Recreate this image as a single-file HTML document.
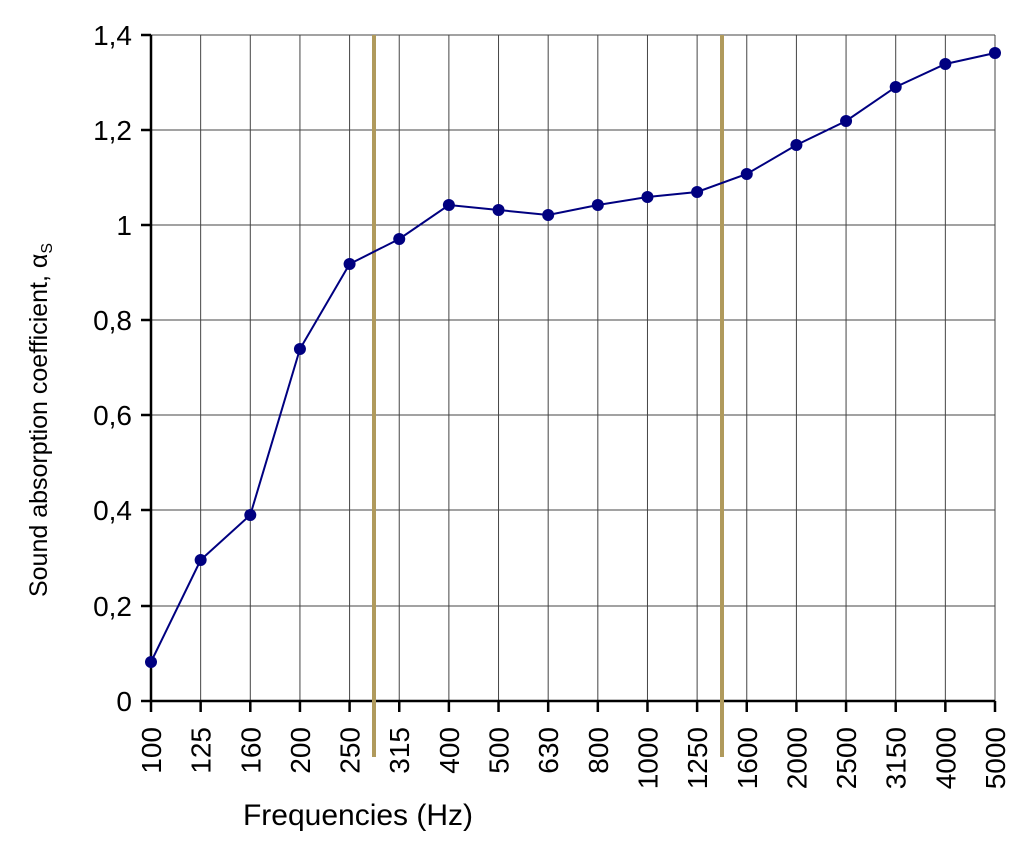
<!DOCTYPE html>
<html><head><style>body{margin:0;background:#fff}svg{display:block}text{font-family:"Liberation Sans",sans-serif;fill:#000}</style></head><body>
<svg width="1028" height="846" xmlns="http://www.w3.org/2000/svg">
<g stroke="#444" stroke-width="1">
<line x1="151" y1="130" x2="995" y2="130"/><line x1="151" y1="225" x2="995" y2="225"/><line x1="151" y1="320" x2="995" y2="320"/><line x1="151" y1="415" x2="995" y2="415"/><line x1="151" y1="510" x2="995" y2="510"/><line x1="151" y1="606" x2="995" y2="606"/><line x1="151" y1="35" x2="995" y2="35"/>
</g>
<g id="vg" stroke="#444" stroke-width="1"></g>
<line x1="151" y1="35" x2="151" y2="701" stroke="#000" stroke-width="2.5"/>
<line x1="141" y1="701" x2="995" y2="701" stroke="#000" stroke-width="2.5"/>
<g stroke="#000" stroke-width="2.5">
<line x1="141" y1="35" x2="151" y2="35"/><line x1="141" y1="130" x2="151" y2="130"/><line x1="141" y1="225" x2="151" y2="225"/><line x1="141" y1="320" x2="151" y2="320"/><line x1="141" y1="415" x2="151" y2="415"/><line x1="141" y1="510" x2="151" y2="510"/><line x1="141" y1="606" x2="151" y2="606"/>
</g>
<g id="xt"></g>
<line x1="374" y1="35" x2="374" y2="757" stroke="#b09a5c" stroke-width="4"/>
<line x1="722" y1="35" x2="722" y2="757" stroke="#b09a5c" stroke-width="4"/>
<g font-size="28" text-anchor="end">
<text x="132" y="45">1,4</text><text x="132" y="140">1,2</text><text x="132" y="235">1</text><text x="132" y="330">0,8</text><text x="132" y="425">0,6</text><text x="132" y="520">0,4</text><text x="132" y="616">0,2</text><text x="132" y="711">0</text>
</g>
<text transform="translate(47,420) rotate(-90)" font-size="25" text-anchor="middle">Sound absorption coefficient, α<tspan font-size="16" dy="5">S</tspan></text>
<text x="358" y="825" font-size="30" text-anchor="middle">Frequencies (Hz)</text>
<polyline id="pl" fill="none" stroke="#000080" stroke-width="2"/>
<g id="pts" fill="#000080"></g>
<script>
var labs=["100","125","160","200","250","315","400","500","630","800","1000","1250","1600","2000","2500","3150","4000","5000"];
var ys=[662,560,515,349,264,239,205,210,215,205,197,192,174,145,121,87,64,53];
var vg=document.getElementById('vg'),xt=document.getElementById('xt'),pts=document.getElementById('pts'),ns="http://www.w3.org/2000/svg",p="";
for(var i=0;i<18;i++){var x=151+i*844/17;
if(i>0){var l=document.createElementNS(ns,'line');l.setAttribute('x1',x);l.setAttribute('x2',x);l.setAttribute('y1',35);l.setAttribute('y2',701);vg.appendChild(l);}
var t=document.createElementNS(ns,'line');t.setAttribute('x1',x);t.setAttribute('x2',x);t.setAttribute('y1',701);t.setAttribute('y2',712);t.setAttribute('stroke','#000');t.setAttribute('stroke-width','2.5');xt.appendChild(t);
var tx=document.createElementNS(ns,'text');tx.setAttribute('transform','translate('+(x+10)+',727) rotate(-90)');tx.setAttribute('font-size','28');tx.setAttribute('text-anchor','end');tx.textContent=labs[i];xt.appendChild(tx);
p+=x+","+ys[i]+" ";
var c=document.createElementNS(ns,'circle');c.setAttribute('cx',x);c.setAttribute('cy',ys[i]);c.setAttribute('r',6);pts.appendChild(c);}
document.getElementById('pl').setAttribute('points',p);
</script>
</svg></body></html>
